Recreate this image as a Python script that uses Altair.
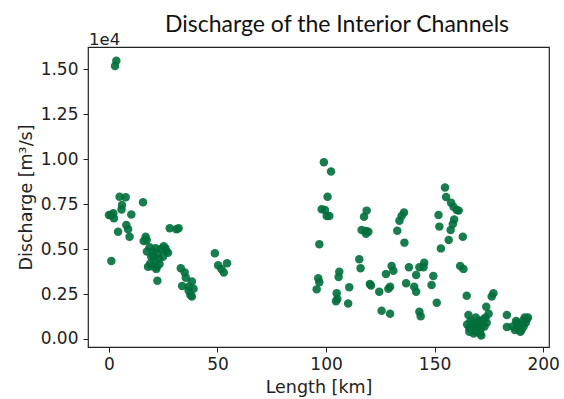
import altair as alt
import pandas as pd

# Length along channel [km]
length_km = [
    3.4, 2.8,
    0.0, 1.0, 2.3, 2.0, 1.1, 4.2, 4.9, 7.7, 6.0, 5.8, 10.3, 8.0, 8.8, 9.5,
    15.7, 16.9, 16.0, 17.4, 17.5, 18.7, 19.5, 18.0, 20.2, 21.0, 21.8, 22.5,
    23.3, 22.3, 24.1, 24.9, 25.2, 26.4, 27.2, 28.0, 31.1, 32.1,
    19.0, 20.5, 21.5, 23.0, 19.8, 22.0, 26.0,
    33.1, 34.9, 35.4, 33.7, 38.2, 39.0, 36.7, 37.5, 38.2, 36.7,
    48.8, 50.3, 51.8, 52.9, 54.4,
    99.0, 102.3, 100.7, 98.0, 99.5, 100.3, 101.5, 96.9, 96.4, 96.9, 95.7,
    106.1, 105.8, 110.7, 104.9, 105.2, 104.6, 110.2,
    118.7, 117.5, 116.4, 118.4, 119.5, 118.4, 115.3, 115.9, 120.2, 120.7,
    124.5, 125.6, 129.5, 127.6, 130.2, 131.0, 129.5, 128.7,
    135.9, 134.8, 133.8, 132.8, 136.1, 138.2, 136.9, 143.0, 141.5, 140.6,
    141.5, 145.2, 144.9, 143.0, 143.6, 149.4, 148.6, 151.0,
    154.8, 155.3, 157.6, 158.7, 160.2, 161.1, 151.8, 159.0, 158.4, 152.2,
    157.4, 156.5, 163.0, 152.9, 161.8, 163.3, 164.8, 165.6,
    177.1, 176.3, 173.8, 174.9, 183.3, 183.3,
    165.0, 166.0, 166.5, 167.0, 167.5, 168.0, 168.5, 169.0, 169.5, 170.0,
    170.5, 171.0, 171.5, 172.0, 172.5, 173.0, 168.0, 170.0, 169.0, 171.5,
    173.5, 174.0, 166.0,
    186.0, 187.0, 188.0, 188.5, 189.0, 190.0, 190.5, 191.0, 192.0, 192.5,
    193.0, 189.5, 191.5, 187.5,
]

# Discharge [m3/s]
discharge = [
    15480, 15180,
    6900, 6880, 6710, 7000, 4340, 5970, 7910, 7880, 7450, 7200, 6930, 6340, 6100, 5690,
    7600, 5690, 5450, 5500, 4860, 5100, 4570, 4020, 4900, 4400, 3900, 4750,
    4170, 3240, 5000, 4570, 5160, 4900, 4800, 6160, 6100, 6160,
    4200, 4650, 5050, 4450, 4050, 4000, 5050,
    3930, 3700, 3400, 2950, 3200, 2800, 2700, 2450, 2360, 2900,
    4770, 4100, 3900, 3700, 4210,
    9830, 9310, 7910, 7210, 7180, 6840, 6840, 5270, 3380, 3150, 2760,
    3740, 3450, 2880, 2540, 2220, 2100, 1980,
    7140, 6800, 6060, 6000, 5970, 5850, 4430, 3930, 3060, 2970,
    2630, 1570, 1400, 3620, 4060, 3800, 2910, 2800,
    7030, 6840, 6580, 6020, 5360, 3990, 3100, 3990, 3560, 2910,
    2630, 4240, 3990, 1520, 1270, 3500, 3000, 2020,
    8420, 7900, 7580, 7350, 7170, 7140, 6900, 6650, 6400, 6250,
    6060, 5510, 5690, 5040, 4060, 3900, 2410, 1330,
    2540, 2360, 1800, 1400, 1330, 670,
    800, 600, 1000, 700, 500, 900, 600, 400, 800, 500,
    700, 300, 600, 900, 1100, 700, 300, 1000, 1200, 200,
    1200, 900, 400,
    700, 500, 900, 600, 800, 500, 1000, 700, 900, 1100,
    1200, 400, 1200, 1000,
]

y_ticks = [0, 2500, 5000, 7500, 10000, 12500, 15000]
x_ticks = [0, 50, 100, 150, 200]

df = pd.DataFrame({"length": length_km, "discharge": discharge})

TICK_FONT = "DejaVu Sans"

points = alt.Chart(df).mark_circle(size=72, color="#006f3b", opacity=0.9).encode(
    x=alt.X(
        "length:Q",
        scale=alt.Scale(domain=[-9.65, 202.7], nice=False, zero=False),
        axis=alt.Axis(values=x_ticks, title="Length [km]", format="d"),
    ),
    y=alt.Y(
        "discharge:Q",
        scale=alt.Scale(domain=[-445, 16240], nice=False, zero=False),
        axis=alt.Axis(
            values=y_ticks,
            title="Discharge [m³/s]",
            labelExpr="format(datum.value / 10000, '.2f')",
        ),
    ),
)

title_df = pd.DataFrame({"t": ["Discharge of the Interior Channels"]})
title = alt.Chart(title_df).mark_text(
    font="Lato", fontSize=23, align="center", baseline="alphabetic", color="#111"
).encode(text="t:N", x=alt.value(249), y=alt.value(-15))

exp_df = pd.DataFrame({"t": ["1e4"]})
exponent = alt.Chart(exp_df).mark_text(
    font=TICK_FONT, fontSize=16.5, align="left", baseline="alphabetic", color="#222"
).encode(text="t:N", x=alt.value(1), y=alt.value(-2))

chart = alt.layer(points, title, exponent).properties(
    width=461,
    height=300,
    autosize=alt.AutoSizeParams(type="none"),
    padding={"left": 88, "top": 47, "right": 15, "bottom": 52},
).configure_view(
    stroke="#222", strokeWidth=1.2
).configure_axis(
    grid=False,
    domain=False,
    ticks=True,
    tickSize=5,
    tickWidth=1,
    tickColor="#222",
    labelFont=TICK_FONT,
    labelFontSize=17,
    labelColor="#222",
    labelPadding=4,
    titleFont=TICK_FONT,
    titleFontSize=17.5,
    titleFontWeight="normal",
    titleColor="#222",
).configure_axisY(
    titlePadding=5,
    labelPadding=5,
).configure_axisX(
    titlePadding=6,
)

chart.save("out.html", embed_options={"renderer": "svg", "actions": False})
